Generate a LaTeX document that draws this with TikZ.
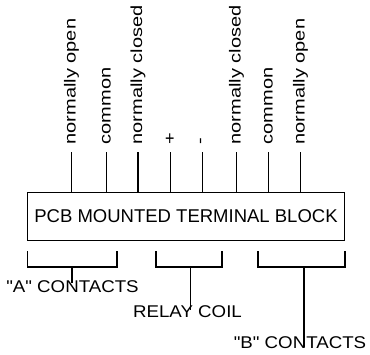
\documentclass[tikz,border=0pt]{standalone}
\usepackage{fontspec}
\setmainfont{Liberation Sans}
\newfontfamily\pinfont[FakeStretch=1.25]{Liberation Sans}
\newfontfamily\grpfont[FakeStretch=1.1]{Liberation Sans}
\tikzset{
    pinlabel/.style={rotate=90, anchor=west, inner sep=0pt, font=\pinfont\fontsize{16}{16}\selectfont},
    grouplabel/.style={inner sep=0pt, font=\grpfont\fontsize{17}{17}\selectfont},
    blockbox/.style={draw, inner sep=0pt, minimum width=317pt, minimum height=48pt, font=\fontsize{18.5}{18.5}\selectfont}
}
\begin{document}
\begin{tikzpicture}[x=1pt, y=-1pt, line width=1.3pt]
    \useasboundingbox (0,0) rectangle (370,354);
    \node[blockbox] (blk) at (186,216.5) {PCB MOUNTED TERMINAL BLOCK};
    \foreach \px/\txt [count=\i] in {71.5/normally open, 106.5/common, 138/normally closed, 170.5/+, 202.5/-, 236.5/normally closed, 268.5/common, 300.5/normally open}{
        \node[pinlabel] (pin\i) at (\px,145) {\txt};
        \draw ([yshift=-7pt]pin\i.west) -- (blk.north -| pin\i.west);
    }
    % contact and coil groups
    \node[grouplabel] (acont) at (72.5,286.5) {"A" CONTACTS};
    \node[grouplabel] (coil) at (187.5,311.5) {RELAY COIL};
    \node[grouplabel] (bcont) at (300,343) {"B" CONTACTS};
    \coordinate (astem) at (72,267);
    \coordinate (cstem) at (190.5,267);
    \coordinate (bstem) at (304,267);
    \draw (27.5,251) -- (27.5,267) -- (117,267) -- (117,251);
    \draw (156,251) -- (156,267) -- (222,267) -- (222,251);
    \draw (258,251) -- (258,267) -- (345,267) -- (345,251);
    \draw (astem) -- (astem |- acont.north) -- ++(0,3);
    \draw (cstem) -- (cstem |- coil.north) -- ++(0,5);
    \draw (bstem) -- (bstem |- bcont.north) -- ++(0,11);
\end{tikzpicture}
\end{document}
